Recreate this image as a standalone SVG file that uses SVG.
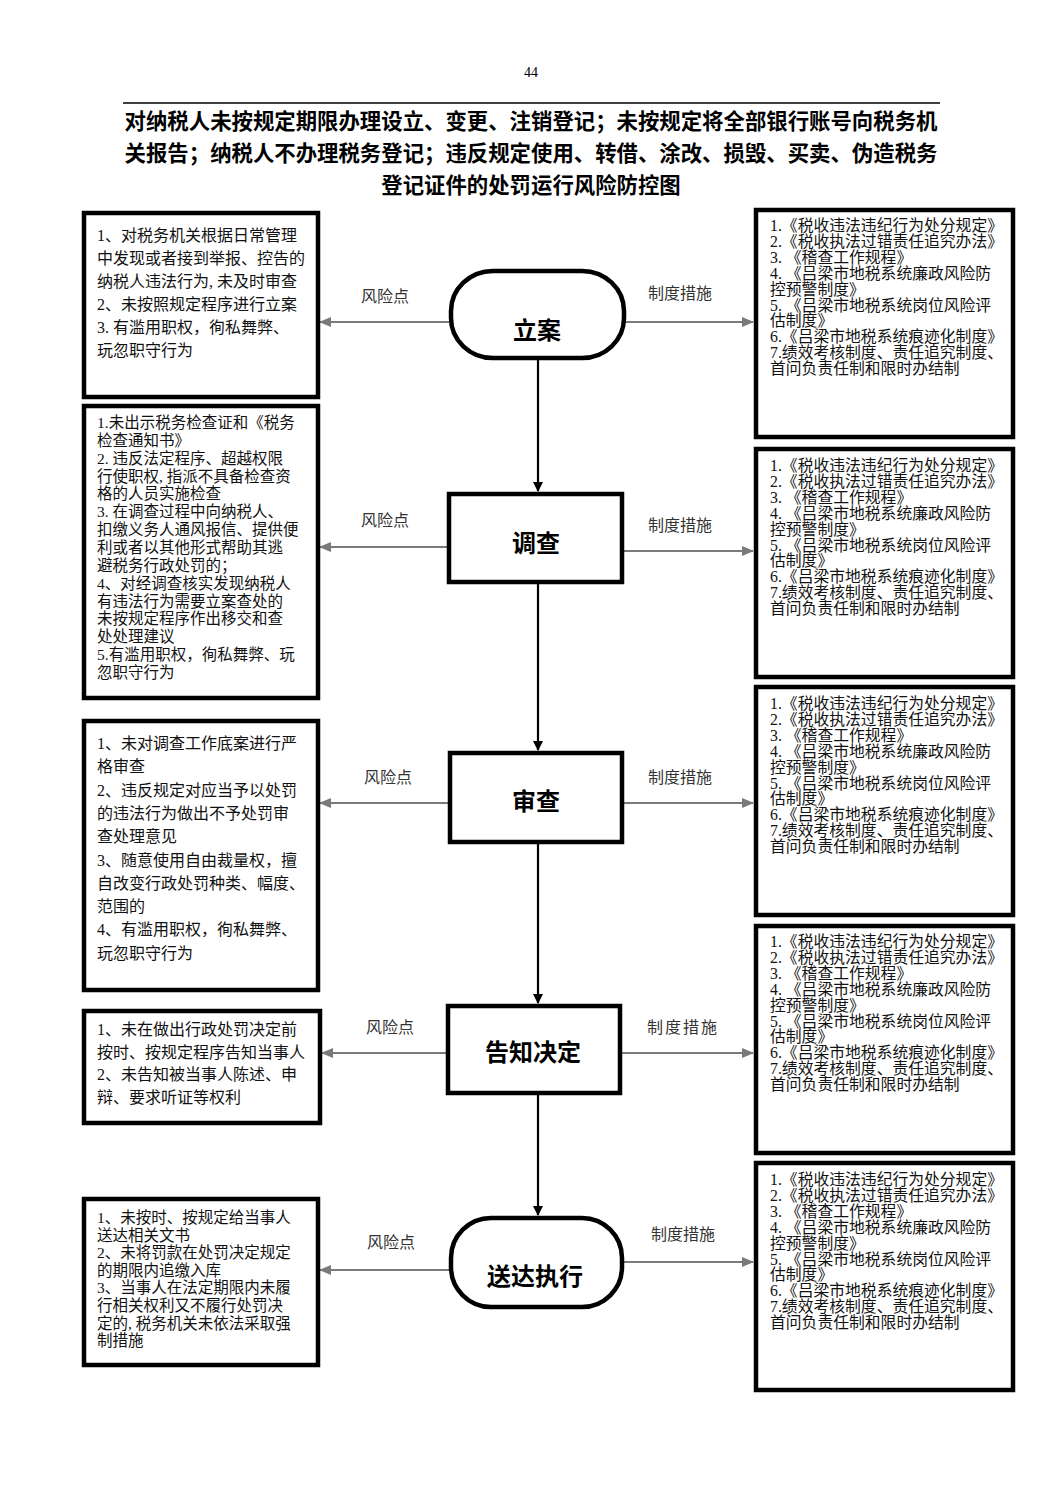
<svg xmlns="http://www.w3.org/2000/svg" width="1063" height="1502" viewBox="0 0 1063 1502">
<style>
.bg{fill:#fff}
.box{fill:#fff;stroke:#000;stroke-width:4.5}
.node{fill:#fff;stroke:#000;stroke-width:4.5}
.ntxt{font-family:"Noto Sans CJK SC",sans-serif;font-size:24px;font-weight:600;text-anchor:middle;fill:#000}
.ltxt{font-family:"Liberation Serif","Noto Sans CJK SC",serif;font-size:15.5px;fill:#111}
.lbig{font-size:16px}
.rtxt{font-family:"Liberation Serif","Noto Sans CJK SC",serif;font-size:15.8px;fill:#111}
.lab{font-family:"Noto Sans CJK SC",sans-serif;font-size:16px;fill:#333;text-anchor:middle}
.title{font-family:"Noto Sans CJK SC",sans-serif;font-size:21.4px;font-weight:bold;text-anchor:middle;fill:#000}
.vline{stroke:#000;stroke-width:2.2;fill:none}
.hline{stroke:#7a7a7a;stroke-width:2.2;fill:none}
</style>
<defs>
<marker id="ab" markerWidth="10" markerHeight="10" refX="9" refY="5" orient="auto" markerUnits="userSpaceOnUse">
<path d="M0,0 L10,5 L0,10 Z" fill="#000"/>
</marker>
<marker id="ag" markerWidth="12" markerHeight="10" refX="11" refY="5" orient="auto" markerUnits="userSpaceOnUse">
<path d="M0,0 L12,5 L0,10 Z" fill="#7a7a7a"/>
</marker>
</defs>
<rect class="bg" x="0" y="0" width="1063" height="1502"/>

<g id="header">
<text x="531" y="77" style="font-family:'Liberation Serif',serif;font-size:14px;text-anchor:middle">44</text>
<line x1="123" y1="103" x2="940" y2="103" stroke="#000" stroke-width="1.5"/>
<text class="title" x="531" y="129">对纳税人未按规定期限办理设立、变更、注销登记；未按规定将全部银行账号向税务机</text>
<text class="title" x="531" y="161">关报告；纳税人不办理税务登记；违反规定使用、转借、涂改、损毁、买卖、伪造税务</text>
<text class="title" x="531" y="193">登记证件的处罚运行风险防控图</text>
</g>

<g id="connectors">
<line class="vline" x1="538" y1="358" x2="538" y2="491" marker-end="url(#ab)"/>
<line class="vline" x1="538" y1="582" x2="538" y2="750" marker-end="url(#ab)"/>
<line class="vline" x1="538" y1="843" x2="538" y2="1003" marker-end="url(#ab)"/>
<line class="vline" x1="538" y1="1093" x2="538" y2="1215" marker-end="url(#ab)"/>
<line class="hline" x1="450" y1="322" x2="320" y2="322" marker-end="url(#ag)"/>
<line class="hline" x1="625" y1="322" x2="753" y2="322" marker-end="url(#ag)"/>
<line class="hline" x1="448" y1="547" x2="320" y2="547" marker-end="url(#ag)"/>
<line class="hline" x1="622" y1="551" x2="753" y2="551" marker-end="url(#ag)"/>
<line class="hline" x1="450" y1="803" x2="320" y2="803" marker-end="url(#ag)"/>
<line class="hline" x1="622" y1="803" x2="753" y2="803" marker-end="url(#ag)"/>
<line class="hline" x1="447" y1="1053" x2="322" y2="1053" marker-end="url(#ag)"/>
<line class="hline" x1="620" y1="1053" x2="753" y2="1053" marker-end="url(#ag)"/>
<line class="hline" x1="450" y1="1270" x2="320" y2="1270" marker-end="url(#ag)"/>
<line class="hline" x1="622" y1="1262" x2="753" y2="1262" marker-end="url(#ag)"/>
<text class="lab" x="385" y="302">风险点</text>
<text class="lab" x="680" y="299">制度措施</text>
<text class="lab" x="385" y="526">风险点</text>
<text class="lab" x="680" y="531">制度措施</text>
<text class="lab" x="388" y="783">风险点</text>
<text class="lab" x="680" y="783">制度措施</text>
<text class="lab" x="390" y="1033">风险点</text>
<text class="lab" x="683" y="1033" letter-spacing="2">制度措施</text>
<text class="lab" x="391" y="1248">风险点</text>
<text class="lab" x="683" y="1240">制度措施</text>
</g>

<g id="n-lian">
<rect class="node" x="451" y="271" width="173" height="87" rx="42" ry="40"/>
<text class="ntxt" x="537" y="339">立案</text>
</g>
<g id="n-diaocha">
<rect class="node" x="449" y="494" width="173" height="88"/>
<text class="ntxt" x="536" y="552">调查</text>
</g>
<g id="n-shencha">
<rect class="node" x="450" y="753" width="172" height="89"/>
<text class="ntxt" x="536" y="810">审查</text>
</g>
<g id="n-gaozhi">
<rect class="node" x="448" y="1006" width="172" height="87"/>
<text class="ntxt" x="533" y="1061">告知决定</text>
</g>
<g id="n-songda">
<rect class="node" x="451" y="1218" width="171" height="89" rx="40" ry="40"/>
<text class="ntxt" x="535" y="1285">送达执行</text>
</g>

<g id="risk1">
<rect class="box" x="84" y="213" width="234" height="184"/>
<text class="ltxt lbig" x="97" y="241">
<tspan x="97">1、对税务机关根据日常管理</tspan>
<tspan x="97" dy="23">中发现或者接到举报、控告的</tspan>
<tspan x="97" dy="23">纳税人违法行为, 未及时审查</tspan>
<tspan x="97" dy="23">2、未按照规定程序进行立案</tspan>
<tspan x="97" dy="23">3. 有滥用职权，徇私舞弊、</tspan>
<tspan x="97" dy="23">玩忽职守行为</tspan>
</text>
</g>
<g id="risk2">
<rect class="box" x="84" y="406" width="234" height="292"/>
<text class="ltxt" x="97" y="428">
<tspan x="97">1.未出示税务检查证和《税务</tspan>
<tspan x="97" dy="17.85">检查通知书》</tspan>
<tspan x="97" dy="17.85">2. 违反法定程序、超越权限</tspan>
<tspan x="97" dy="17.85">行使职权, 指派不具备检查资</tspan>
<tspan x="97" dy="17.85">格的人员实施检查</tspan>
<tspan x="97" dy="17.85">3. 在调查过程中向纳税人、</tspan>
<tspan x="97" dy="17.85">扣缴义务人通风报信、提供便</tspan>
<tspan x="97" dy="17.85">利或者以其他形式帮助其逃</tspan>
<tspan x="97" dy="17.85">避税务行政处罚的；</tspan>
<tspan x="97" dy="17.85">4、对经调查核实发现纳税人</tspan>
<tspan x="97" dy="17.85">有违法行为需要立案查处的</tspan>
<tspan x="97" dy="17.85">未按规定程序作出移交和查</tspan>
<tspan x="97" dy="17.85">处处理建议</tspan>
<tspan x="97" dy="17.85">5.有滥用职权，徇私舞弊、玩</tspan>
<tspan x="97" dy="17.85">忽职守行为</tspan>
</text>
</g>
<g id="risk3">
<rect class="box" x="84" y="721" width="234" height="269"/>
<text class="ltxt lbig" x="97" y="749">
<tspan x="97">1、未对调查工作底案进行严</tspan>
<tspan x="97" dy="23.3">格审查</tspan>
<tspan x="97" dy="23.3">2、违反规定对应当予以处罚</tspan>
<tspan x="97" dy="23.3">的违法行为做出不予处罚审</tspan>
<tspan x="97" dy="23.3">查处理意见</tspan>
<tspan x="97" dy="23.3">3、随意使用自由裁量权，擅</tspan>
<tspan x="97" dy="23.3">自改变行政处罚种类、幅度、</tspan>
<tspan x="97" dy="23.3">范围的</tspan>
<tspan x="97" dy="23.3">4、有滥用职权，徇私舞弊、</tspan>
<tspan x="97" dy="23.3">玩忽职守行为</tspan>
</text>
</g>
<g id="risk4">
<rect class="box" x="84" y="1011" width="236" height="112"/>
<text class="ltxt lbig" x="97" y="1035">
<tspan x="97">1、未在做出行政处罚决定前</tspan>
<tspan x="97" dy="22.5">按时、按规定程序告知当事人</tspan>
<tspan x="97" dy="22.5">2、未告知被当事人陈述、申</tspan>
<tspan x="97" dy="22.5">辩、要求听证等权利</tspan>
</text>
</g>
<g id="risk5">
<rect class="box" x="84" y="1199" width="234" height="166"/>
<text class="ltxt" x="97" y="1223">
<tspan x="97">1、未按时、按规定给当事人</tspan>
<tspan x="97" dy="17.6">送达相关文书</tspan>
<tspan x="97" dy="17.6">2、未将罚款在处罚决定规定</tspan>
<tspan x="97" dy="17.6">的期限内追缴入库</tspan>
<tspan x="97" dy="17.6">3、当事人在法定期限内未履</tspan>
<tspan x="97" dy="17.6">行相关权利又不履行处罚决</tspan>
<tspan x="97" dy="17.6">定的, 税务机关未依法采取强</tspan>
<tspan x="97" dy="17.6">制措施</tspan>
</text>
</g>

<g id="rule1">
<rect class="box" x="756" y="210" width="257" height="227"/>
<text class="rtxt" x="770" y="231">
<tspan x="770">1.《税收违法违纪行为处分规定》</tspan>
<tspan x="770" dy="15.9">2.《税收执法过错责任追究办法》</tspan>
<tspan x="770" dy="15.9">3. 《稽查工作规程》</tspan>
<tspan x="770" dy="15.9">4. 《吕梁市地税系统廉政风险防</tspan>
<tspan x="770" dy="15.9">控预警制度》</tspan>
<tspan x="770" dy="15.9">5. 《吕梁市地税系统岗位风险评</tspan>
<tspan x="770" dy="15.9">估制度》</tspan>
<tspan x="770" dy="15.9">6.《吕梁市地税系统痕迹化制度》</tspan>
<tspan x="770" dy="15.9">7.绩效考核制度、责任追究制度、</tspan>
<tspan x="770" dy="15.9">首问负责任制和限时办结制</tspan>
</text>
</g>
<g id="rule2">
<rect class="box" x="756" y="449" width="257" height="228"/>
<text class="rtxt" x="770" y="471">
<tspan x="770">1.《税收违法违纪行为处分规定》</tspan>
<tspan x="770" dy="15.9">2.《税收执法过错责任追究办法》</tspan>
<tspan x="770" dy="15.9">3. 《稽查工作规程》</tspan>
<tspan x="770" dy="15.9">4. 《吕梁市地税系统廉政风险防</tspan>
<tspan x="770" dy="15.9">控预警制度》</tspan>
<tspan x="770" dy="15.9">5. 《吕梁市地税系统岗位风险评</tspan>
<tspan x="770" dy="15.9">估制度》</tspan>
<tspan x="770" dy="15.9">6.《吕梁市地税系统痕迹化制度》</tspan>
<tspan x="770" dy="15.9">7.绩效考核制度、责任追究制度、</tspan>
<tspan x="770" dy="15.9">首问负责任制和限时办结制</tspan>
</text>
</g>
<g id="rule3">
<rect class="box" x="756" y="687" width="257" height="228"/>
<text class="rtxt" x="770" y="709">
<tspan x="770">1.《税收违法违纪行为处分规定》</tspan>
<tspan x="770" dy="15.9">2.《税收执法过错责任追究办法》</tspan>
<tspan x="770" dy="15.9">3. 《稽查工作规程》</tspan>
<tspan x="770" dy="15.9">4. 《吕梁市地税系统廉政风险防</tspan>
<tspan x="770" dy="15.9">控预警制度》</tspan>
<tspan x="770" dy="15.9">5. 《吕梁市地税系统岗位风险评</tspan>
<tspan x="770" dy="15.9">估制度》</tspan>
<tspan x="770" dy="15.9">6.《吕梁市地税系统痕迹化制度》</tspan>
<tspan x="770" dy="15.9">7.绩效考核制度、责任追究制度、</tspan>
<tspan x="770" dy="15.9">首问负责任制和限时办结制</tspan>
</text>
</g>
<g id="rule4">
<rect class="box" x="756" y="926" width="257" height="227"/>
<text class="rtxt" x="770" y="947">
<tspan x="770">1.《税收违法违纪行为处分规定》</tspan>
<tspan x="770" dy="15.9">2.《税收执法过错责任追究办法》</tspan>
<tspan x="770" dy="15.9">3. 《稽查工作规程》</tspan>
<tspan x="770" dy="15.9">4. 《吕梁市地税系统廉政风险防</tspan>
<tspan x="770" dy="15.9">控预警制度》</tspan>
<tspan x="770" dy="15.9">5. 《吕梁市地税系统岗位风险评</tspan>
<tspan x="770" dy="15.9">估制度》</tspan>
<tspan x="770" dy="15.9">6.《吕梁市地税系统痕迹化制度》</tspan>
<tspan x="770" dy="15.9">7.绩效考核制度、责任追究制度、</tspan>
<tspan x="770" dy="15.9">首问负责任制和限时办结制</tspan>
</text>
</g>
<g id="rule5">
<rect class="box" x="756" y="1163" width="257" height="227"/>
<text class="rtxt" x="770" y="1185">
<tspan x="770">1.《税收违法违纪行为处分规定》</tspan>
<tspan x="770" dy="15.9">2.《税收执法过错责任追究办法》</tspan>
<tspan x="770" dy="15.9">3. 《稽查工作规程》</tspan>
<tspan x="770" dy="15.9">4. 《吕梁市地税系统廉政风险防</tspan>
<tspan x="770" dy="15.9">控预警制度》</tspan>
<tspan x="770" dy="15.9">5. 《吕梁市地税系统岗位风险评</tspan>
<tspan x="770" dy="15.9">估制度》</tspan>
<tspan x="770" dy="15.9">6.《吕梁市地税系统痕迹化制度》</tspan>
<tspan x="770" dy="15.9">7.绩效考核制度、责任追究制度、</tspan>
<tspan x="770" dy="15.9">首问负责任制和限时办结制</tspan>
</text>
</g>
</svg>
